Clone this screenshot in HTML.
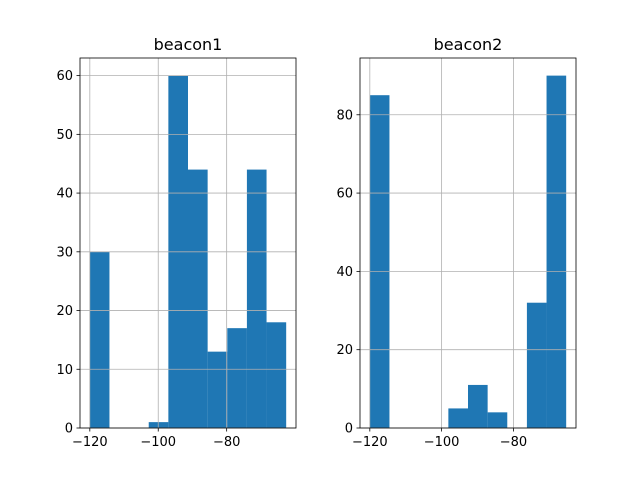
<!DOCTYPE html>
<html><head><meta charset="utf-8"><style>
body{margin:0;background:#fff;}
svg text{font-family:"DejaVu Sans","Liberation Sans",sans-serif;}
</style></head><body>
<svg id="chart" width="640" height="480"></svg>
<script>
const edges1Min = -120, edges1Max = -62.6;
const counts1 = [30,0,0,1,60,44,13,17,44,18];
const yTicks1 = [0,10,20,30,40,50,60];
const edges2Min = -120, edges2Max = -65.3;
const counts2 = [85,0,0,0,5,11,4,0,32,90];
const yTicks2 = [0,20,40,60,80];
const xTicks = [-120,-100,-80];
const titles = ["beacon1","beacon2"];

const NS="http://www.w3.org/2000/svg";
const svg=document.getElementById('chart');
function mk(tag,attrs,parent){const e=document.createElementNS(NS,tag);for(const k in attrs)e.setAttribute(k,attrs[k]);(parent||svg).appendChild(e);return e;}

function panel(px0,px1,py0,py1,emin,emax,counts,yt,title,idx){
  const g=mk('g',{});
  
  
  const span=emax-emin, xl0=emin-span*0.05, xl1=emax+span*0.05;
  const ymax=Math.max(...counts)*1.05;
  const X=v=>px0+(v-xl0)/(xl1-xl0)*(px1-px0);
  const Y=v=>py1-v/ymax*(py1-py0);
  const bw=span/counts.length;
  // bars
  counts.forEach((c,i)=>{
    if(c<=0)return;
    const r=mk('rect',{x:X(emin+i*bw),y:Y(c),width:X(emin+(i+1)*bw)-X(emin+i*bw),height:Y(0)-Y(c),fill:'#1f77b4'},g);
    
    
  });
  // grid
  xTicks.forEach(t=>{
    const l=mk('line',{x1:X(t),x2:X(t),y1:py0,y2:py1,stroke:'#b0b0b0','stroke-width':0.8},g);
    
    
    mk('line',{x1:X(t),x2:X(t),y1:py1,y2:py1+3.5,stroke:'#000','stroke-width':0.8},g);
    const tx=mk('text',{x:X(t),y:py1+18,'text-anchor':'middle','font-size':13,fill:'#000'},g);
    tx.textContent='\u2212'+Math.abs(t);
    
    
  });
  yt.forEach(t=>{
    const l=mk('line',{x1:px0,x2:px1,y1:Y(t),y2:Y(t),stroke:'#b0b0b0','stroke-width':0.8},g);
    
    
    mk('line',{x1:px0-3.5,x2:px0,y1:Y(t),y2:Y(t),stroke:'#000','stroke-width':0.8},g);
    const tx=mk('text',{x:px0-7,y:Y(t)+4.5,'text-anchor':'end','font-size':13,fill:'#000'},g);
    tx.textContent=t;
    
    
  });
  const fr=mk('rect',{x:px0,y:py0,width:px1-px0,height:py1-py0,fill:'none',stroke:'#000','stroke-width':0.8},g);
  
  
  const tt=mk('text',{x:(px0+px1)/2,y:py0-8,'text-anchor':'middle','font-size':16,fill:'#000'},g);
  tt.textContent=title;
  
  
}
panel(80,296,58,428,edges1Min,edges1Max,counts1,yTicks1,titles[0],0);
panel(360,576,58,428,edges2Min,edges2Max,counts2,yTicks2,titles[1],1);
</script>
</body></html>
